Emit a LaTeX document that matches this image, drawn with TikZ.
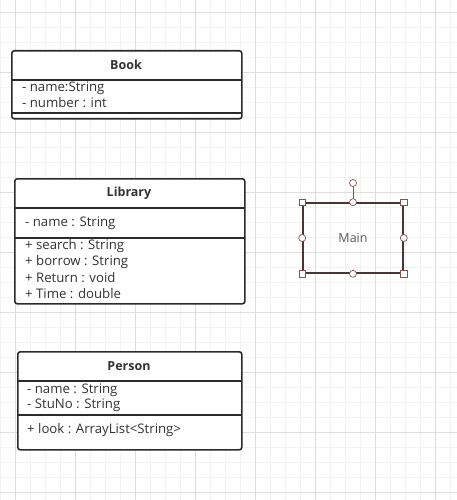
\documentclass[tikz,border=0pt]{standalone}
\usepackage{fontspec}
\setmainfont{Open Sans}
\definecolor{minorg}{HTML}{F3F3F3}
\definecolor{majorg}{HTML}{DDDDDD}
\definecolor{boxline}{HTML}{2B2B2B}
\definecolor{txt}{HTML}{333333}
\definecolor{mainline}{HTML}{4A3535}
\definecolor{handle}{HTML}{8A5050}
\begin{document}
\begin{tikzpicture}[x=1pt,y=-1pt,
  minorline/.style={draw=minorg,line width=0.8pt},
  majorline/.style={draw=majorg,line width=0.8pt},
  umlbox/.style={draw=boxline,line width=1.6pt,rounded corners=2.5pt,fill=white,inner sep=0pt,anchor=north west},
  sepline/.style={draw=boxline,line width=1.6pt},
  titletext/.style={font=\fontsize{12.5}{14}\selectfont\bfseries,text=txt,inner sep=0pt},
  attrtext/.style={font=\fontsize{13.2}{14}\selectfont,text=txt,inner sep=0pt,anchor=west},
  sqhandle/.style={draw=handle,fill=white,line width=0.7pt,minimum size=6.5pt,inner sep=0pt},
  cirhandle/.style={draw=handle,fill=white,line width=0.7pt,circle,minimum size=7pt,inner sep=0pt}
]
\useasboundingbox (0,0) rectangle (457,500);
\fill[white] (0,0) rectangle (457,500);
% grid
\foreach \i in {0,...,30} \draw[minorline] (15*\i,0) -- (15*\i,500);
\foreach \i in {0,...,33} \draw[minorline] (0,15*\i-3) -- (457,15*\i-3);
\foreach \i in {0,...,7} \draw[majorline] (15+60*\i,0) -- (15+60*\i,500);
\foreach \i in {0,...,8} \draw[majorline] (0,12+60*\i) -- (457,12+60*\i);

% Book
\node[umlbox,minimum width=230pt,minimum height=68pt] (book) at (11,50) {};
\draw[sepline] (11,80) -- (241,80);
\draw[sepline] (11,113) -- (241,113);
\node[titletext] (bookt) at (126,65) {Book};
\node[attrtext] (booka1) at (22,88) {- name:String};
\node[attrtext] (booka2) at (22,103) {- number : int};

% Library
\node[umlbox,minimum width=230pt,minimum height=125pt] (lib) at (14,178) {};
\draw[sepline] (14,208) -- (244,208);
\draw[sepline] (14,238) -- (244,238);
\node[titletext] (libt) at (129,193.5) {Library};
\node[attrtext] (liba1) at (25,223) {- name : String};
\node[attrtext] (libm1) at (25,246) {+ search : String};
\node[attrtext] (libm2) at (25,262) {+ borrow : String};
\node[attrtext] (libm3) at (25,278) {+ Return : void};
\node[attrtext] (libm4) at (25,294) {+ Time : double};

% Person
\node[umlbox,minimum width=224pt,minimum height=98pt] (per) at (17,351) {};
\draw[sepline] (17,381) -- (241,381);
\draw[sepline] (17,415) -- (241,415);
\node[titletext] (pert) at (129,366) {Person};
\node[attrtext] (pera1) at (27,390) {- name : String};
\node[attrtext] (pera2) at (27,405) {- StuNo : String};
\node[attrtext] (perm1) at (27,430) {+ look : ArrayList<String>};

% Main (selected)
\node[draw=mainline,line width=1.6pt,minimum width=100pt,minimum height=70pt,inner sep=0pt,
      font=\fontsize{12.5}{14}\selectfont,text=black!65] (main) at (353,238) {Main};
\coordinate (rot) at (353,183);
\draw[handle,line width=0.7pt] (main.north) -- (rot);
\node[cirhandle] (hrot) at (rot) {};
\node[sqhandle] (hnw) at (main.north west) {};
\node[sqhandle] (hne) at (main.north east) {};
\node[sqhandle] (hsw) at (main.south west) {};
\node[sqhandle] (hse) at (main.south east) {};
\node[cirhandle] (hn) at (main.north) {};
\node[cirhandle] (hs) at (main.south) {};
\node[cirhandle] (hw) at (main.west) {};
\node[cirhandle] (he) at (main.east) {};
\end{tikzpicture}
\end{document}
